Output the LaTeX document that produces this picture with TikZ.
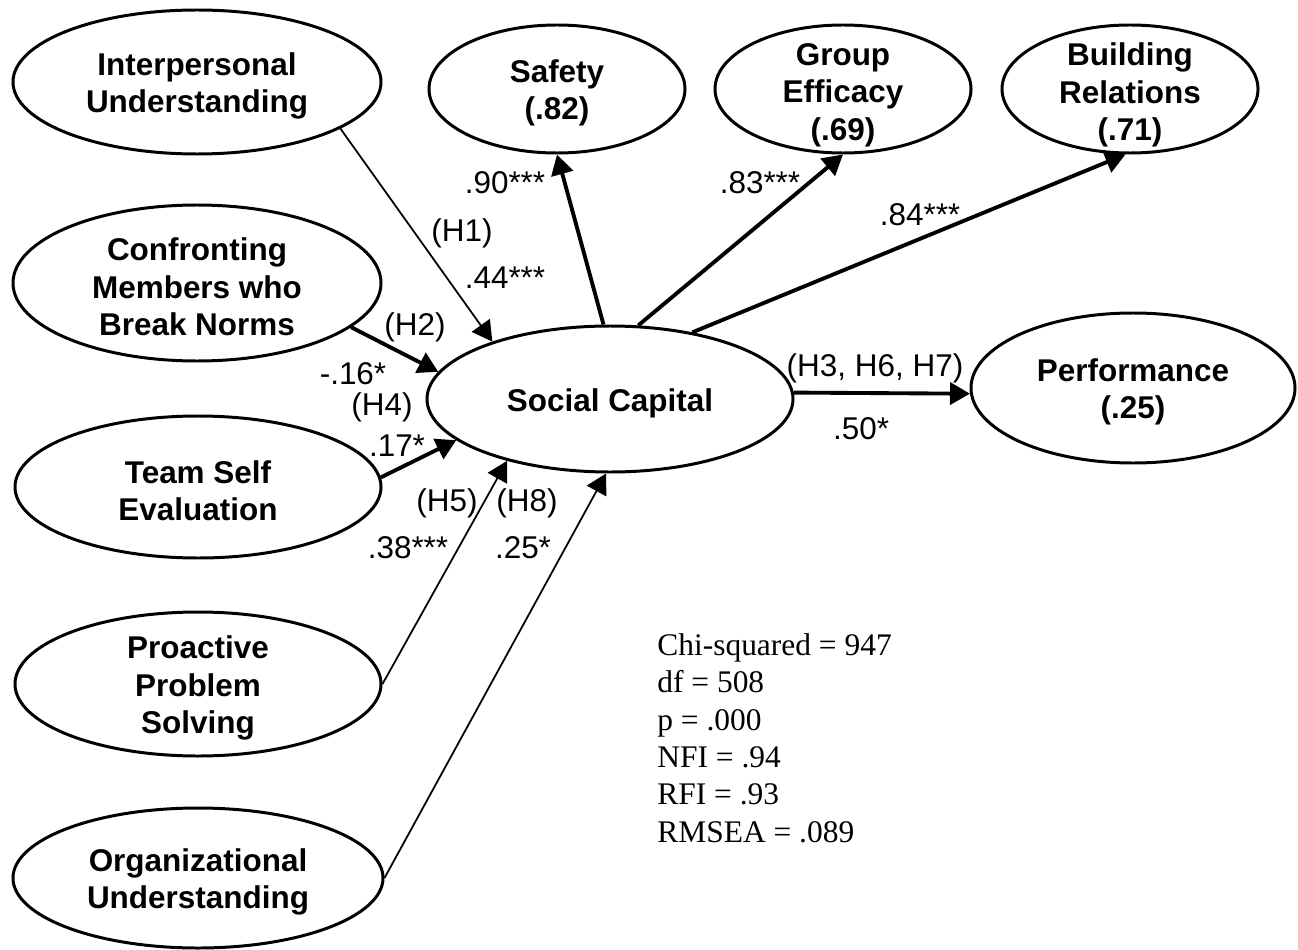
\documentclass[tikz,border=0pt]{standalone}
\usepackage{fontspec}
\setmainfont{Liberation Serif}
\setsansfont{Liberation Sans}
\usetikzlibrary{shapes.geometric,arrows.meta}

\begin{document}
\begin{tikzpicture}[
  font=\sffamily\fontsize{17.9}{21}\selectfont,
  construct/.style={ellipse, draw, line width=1.7pt, inner sep=0pt},
  every label/.style={align=center, yshift=-0.08cm, font=\sffamily\bfseries\fontsize{17.9}{21.3}\selectfont},
  strong/.style={line width=2.2pt, -{Triangle[length=4mm,width=4.4mm]}},
  weak/.style={line width=1pt, -{Triangle[length=4mm,width=4.4mm]}}
]
\useasboundingbox (0,0) rectangle (25.96,18.98);

% Antecedents
\node[construct, minimum width=7.36cm, minimum height=2.88cm, label={center:Interpersonal\\Understanding}] (inter) at (3.94,17.34) {};
\node[construct, minimum width=7.36cm, minimum height=3.12cm, label={center:Confronting\\Members who\\Break Norms}] (confront) at (3.94,13.32) {};
\node[construct, minimum width=7.32cm, minimum height=2.84cm, label={center:Team Self\\Evaluation}] (team) at (3.96,9.24) {};
\node[construct, minimum width=7.32cm, minimum height=2.88cm, label={center:Proactive\\Problem\\Solving}] (proactive) at (3.96,5.30) {};
\node[construct, minimum width=7.40cm, minimum height=2.80cm, label={center:Organizational\\Understanding}] (org) at (3.96,1.42) {};

% Social capital and its indicators
\node[construct, minimum width=7.32cm, minimum height=2.92cm, label={center:Social Capital}] (social) at (12.20,11.00) {};
\node[construct, minimum width=5.12cm, minimum height=2.56cm, label={center:Safety\\(.82)}] (safety) at (11.14,17.20) {};
\node[construct, minimum width=5.12cm, minimum height=2.56cm, label={[yshift=-0.04cm]center:Group\\Efficacy\\(.69)}] (group) at (16.86,17.20) {};
\node[construct, minimum width=5.12cm, minimum height=2.56cm, label={[yshift=-0.04cm]center:Building\\Relations\\(.71)}] (build) at (22.60,17.20) {};
\node[construct, minimum width=6.48cm, minimum height=3.00cm, label={center:Performance\\(.25)}] (perf) at (22.66,11.22) {};

% Paths
\draw[weak] (inter.342) -- (social.154);
\draw[strong] (confront.344) -- (social.171);
\draw[strong] (team.3) -- (social.195);
\draw[weak] (proactive.east) -- (social.211);
\draw[weak] (org.east) -- (social.267);
\draw[strong] (social.95) -- (safety.south);
\draw[strong] (social.69) -- (group.south);
\draw[strong] (social.39) -- (build.266);
\draw[strong] (social.2) -- (perf.182);

% Coefficients
\node (h1) at (9.24,14.32) {(H1)};
\node (c1) at (10.10,13.42) {.44***};
\node (h2) at (8.30,12.44) {(H2)};
\node (c2) at (7.06,11.50) {-.16*};
\node (h4) at (7.64,10.84) {(H4)};
\node (c4) at (7.94,10.06) {.17*};
\node (h5) at (8.94,8.92) {(H5)};
\node (c5) at (8.16,8.02) {.38***};
\node (h8) at (10.54,8.92) {(H8)};
\node (c8) at (10.46,8.02) {.25*};
\node (csafety) at (10.10,15.32) {.90***};
\node (cgroup) at (15.20,15.32) {.83***};
\node (cbuild) at (18.40,14.68) {.84***};
\node (h3) at (17.50,11.62) {(H3, H6, H7)};
\node (c3) at (17.22,10.40) {.50*};

% Fit statistics
\node[anchor=north west, inner sep=0pt, align=left, font=\rmfamily\fontsize{17.9}{21.3}\selectfont] (fitstats) at (13.14,6.32)
  {Chi-squared = 947\\df = 508\\p = .000\\NFI = .94\\RFI = .93\\RMSEA = .089};

\end{tikzpicture}
\end{document}
